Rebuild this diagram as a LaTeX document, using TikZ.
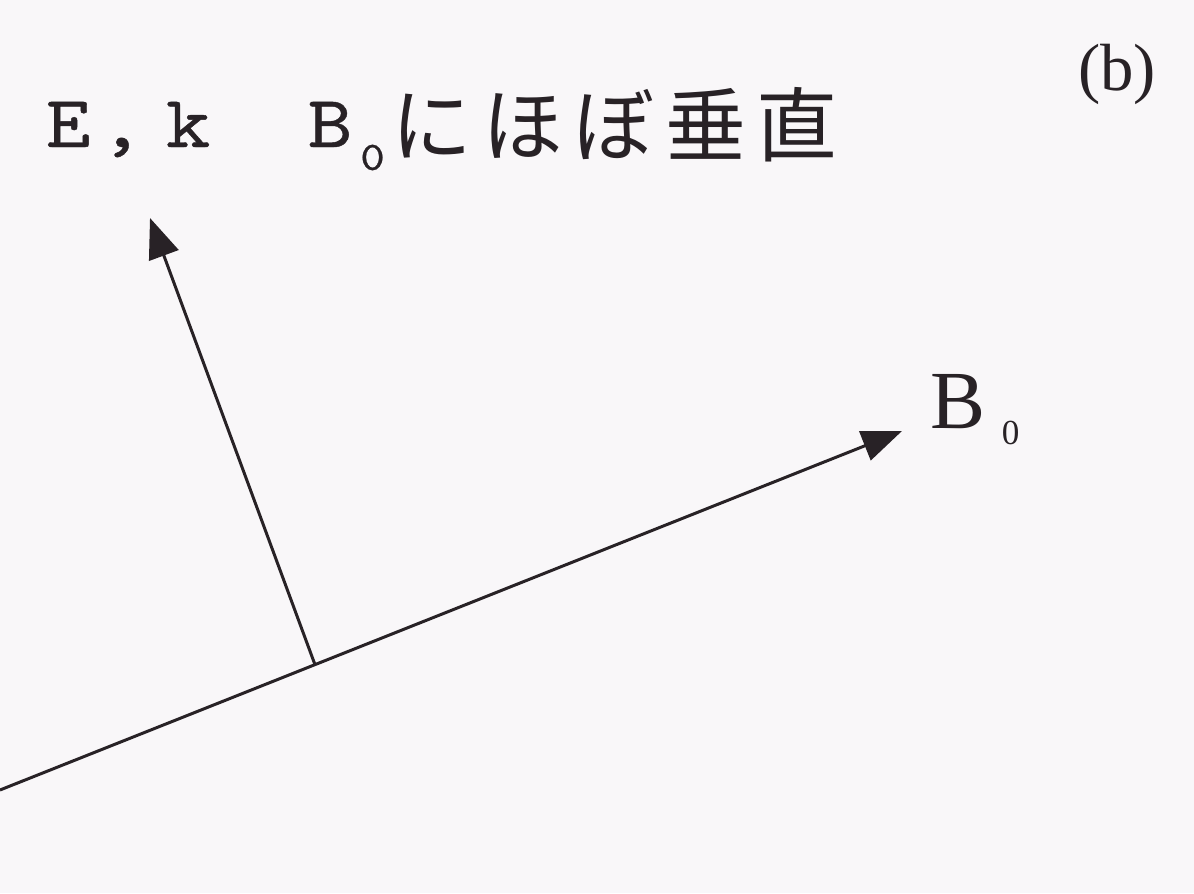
\documentclass[tikz,border=0pt]{standalone}
\usepackage{fontspec}
\setmainfont{Liberation Serif}
\newfontfamily\cjkfnt{Noto Sans CJK JP}
\newfontfamily\monofnt{lmmono10-regular.otf}[FakeStretch=1.15,FakeBold=0.6]
\usetikzlibrary{arrows.meta,calc}
\definecolor{ink}{RGB}{40,34,38}
\definecolor{paper}{RGB}{249,247,249}
\begin{document}
\begin{tikzpicture}[x=0.02cm,y=-0.02cm,
  vec/.style={draw=ink, line width=1.7pt, -{Triangle[length=0.8cm,width=0.62cm]}},
  lbl/.style={inner sep=0pt, outer sep=0pt, text=ink}]
\fill[paper] (0,0) rectangle (1194,893);
\useasboundingbox (0,0) rectangle (1194,893);
% vectors
\coordinate (L) at (0,790);
\coordinate (Btip) at (902,431);
\coordinate (J) at ($(L)!0.3492!(Btip)$);
\coordinate (Etip) at (150,218);
\draw[vec] (L) -- (Btip);
\draw[vec] (J) -- (Etip);
% labels
\node[lbl, anchor=base west] (title) at (46,147)
  {\monofnt\fontsize{42}{42}\selectfont E\kern5pt,\kern12.5pt k\kern55.5pt B\kern4.5pt\raisebox{-13pt}{\fontsize{23}{23}\selectfont 0}\kern3.7pt\raisebox{-5pt}{\cjkfnt\fontsize{46}{46}\selectfont に\kern6pt ほ\kern6pt ぼ\kern6pt 垂\kern6pt 直}};
\node[lbl, anchor=base west] (blabel) at (1078,90) {\fontsize{38}{38}\selectfont (b)};
\node[lbl, anchor=base west] (B0) at (930,428)
  {\fontsize{47}{47}\selectfont B\hspace{9.6pt}\raisebox{-9.6pt}{\fontsize{20}{20}\selectfont 0}};
\end{tikzpicture}
\end{document}
